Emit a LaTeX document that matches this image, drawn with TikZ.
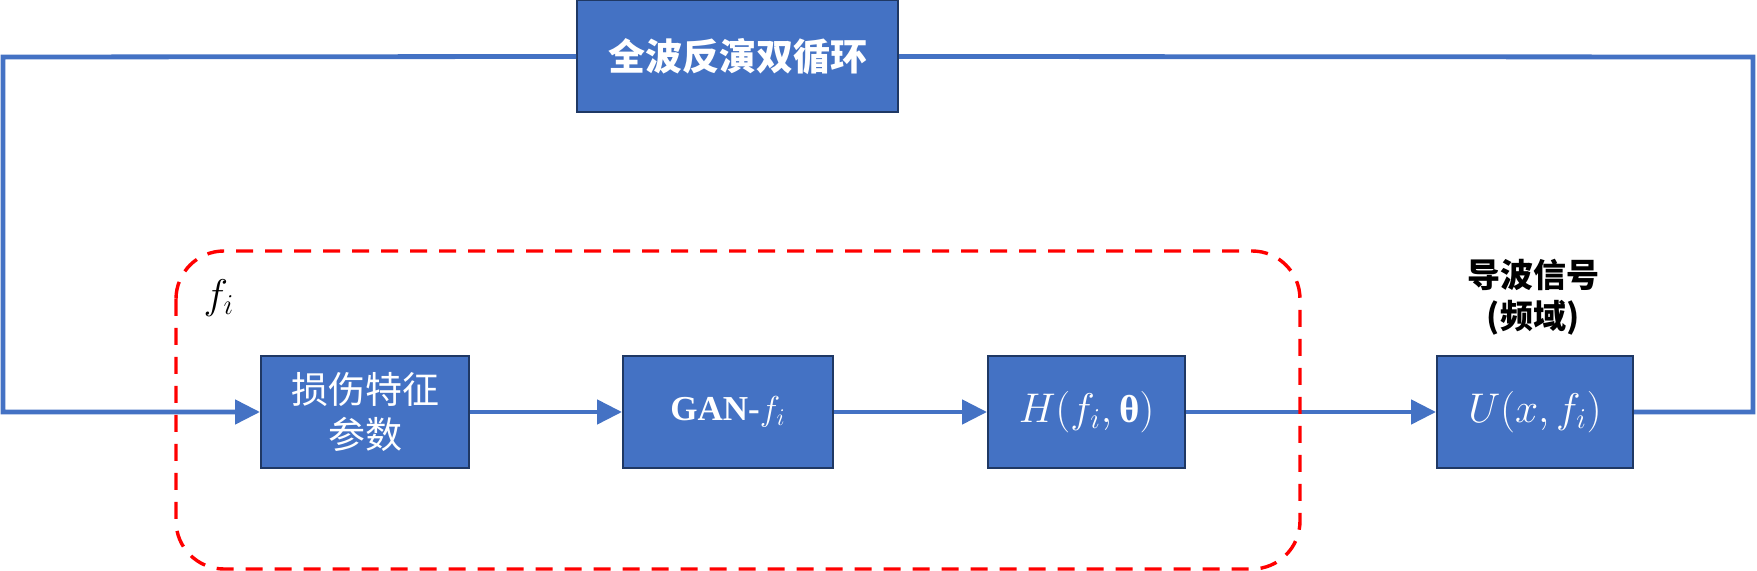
\documentclass[tikz,border=0pt]{standalone}
\usepackage{fontspec}
\setmainfont{Liberation Serif}
\newfontfamily\cjk{Noto Sans CJK SC}
\usetikzlibrary{arrows.meta}
\definecolor{boxblue}{HTML}{4472C4}
\definecolor{boxedge}{HTML}{1F3864}
\begin{document}
\begin{tikzpicture}[>={Triangle[length=12.5pt,width=12pt]},x=0.5pt,y=-0.5pt,
		blk/.style={draw=boxedge,line width=1pt,fill=boxblue,text=white,inner sep=0pt,minimum height=56pt,align=center},
		lnk/.style={draw=boxblue,line width=2.4pt}]
		\useasboundingbox (0,0) rectangle (1757,571);
		\node[blk,minimum width=160.5pt,font=\fontsize{18.5}{22}\selectfont\cjk\bfseries] (cyc) at (737.5,56.5) {全波反演双循环};
		\node[blk,minimum width=104pt,font=\fontsize{18.5}{22.5}\selectfont\cjk] (dmg) at (365,412) {损伤特征\\参数};
		\node[blk,minimum width=105pt,font=\fontsize{17.5}{21}\selectfont] (gan) at (728,412) {\textbf{GAN-}$f_i$};
		\node[blk,minimum width=98.5pt,font=\fontsize{19.5}{22}\selectfont] (hfun) at (1086.5,412) {$H(f_i,\mbox{\bfseries θ})$};
		\node[blk,minimum width=98pt,font=\fontsize{19.5}{22}\selectfont] (usig) at (1535,412) {$U(x,f_i)$};
		\node[align=center,font=\fontsize{16.5}{20.5}\selectfont\cjk\bfseries] (sig) at (1533,297.5) {导波信号\\(频域)};
		\coordinate (ul) at (3,57); \coordinate (ll) at (3,412);
		\coordinate (ur) at (1753,57); \coordinate (lr) at (1753,412);
		\draw[lnk] (usig.east) -- (lr) -- (ur) -- (cyc.east);
		\draw[lnk,->] (cyc.west) -- (ul) -- (ll) -- (dmg.west);
		\draw[lnk,->] (dmg) -- (gan);
		\draw[lnk,->] (gan) -- (hfun);
		\draw[lnk,->] (hfun) -- (usig);
		\draw[red,line width=1.7pt,dash pattern=on 8.5pt off 6pt,rounded corners=24pt] (176,251) rectangle (1300,569);
		\node[font=\fontsize{21}{23}\selectfont] (fi) at (219,298) {$f_i$};
		\end{tikzpicture}
\end{document}
